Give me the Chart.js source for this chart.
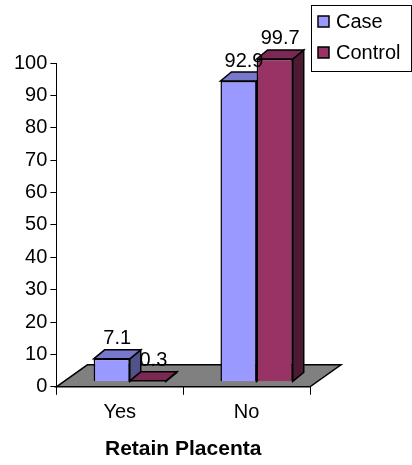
<!DOCTYPE html>
<html>
<head>
<meta charset="utf-8">
<script src="https://cdn.jsdelivr.net/npm/chart.js@4/dist/chart.umd.min.js"></script>
<style>
  html, body { margin: 0; padding: 0; background: #fff; }
  #box { width: 412px; height: 465px; }
</style>
</head>
<body>
<div id="box"><canvas id="grafico" width="412" height="465"></canvas></div>
<script>
var categorias = ['Yes', 'No'];
var valoresCase = [7.1, 92.9];
var valoresControl = [0.3, 99.7];
var nomesSeries = ['Case', 'Control'];
var tituloX = 'Retain Placenta';

var fonte = 'Liberation Sans, Arial, sans-serif';
// deslocamento da profundidade (barra e piso)
var DX = 10, DY = -5;      // barras ficam no meio do piso
var PX = 11, PY = 9;       // profundidade da barra
var FX = 31, FY = 22;      // profundidade do piso

var cores = [
    { frente: '#9999FF', topo: '#7777CC', lado: '#52528A' },
    { frente: '#993366', topo: '#7A2952', lado: '#4D1A33' }
];

function poligono(ctx, pts, cor) {
    ctx.beginPath();
    ctx.moveTo(pts[0][0], pts[0][1]);
    for (var i = 1; i < pts.length; i++) ctx.lineTo(pts[i][0], pts[i][1]);
    ctx.closePath();
    ctx.fillStyle = cor;
    ctx.fill();
    ctx.stroke();
}

var plugin3d = {
    id: 'barras3d',
    afterDatasetsUpdate: function(chart) {
        chart.data.datasets.forEach(function(ds, i) {
            chart.getDatasetMeta(i).data.forEach(function(el) {
                el.x += DX;
                el.y += DY;
                el.base += DY;
            });
        });
    },
    beforeDatasetsDraw: function(chart) {
        var ctx = chart.ctx;
        var a = chart.chartArea;
        var y0 = chart.scales.y.getPixelForValue(0);
        ctx.save();
        ctx.strokeStyle = '#000';
        ctx.lineWidth = 1.5;
        ctx.lineJoin = 'miter';
        // piso
        poligono(ctx, [[a.left, y0], [a.left + FX, y0 - FY], [a.right + FX, y0 - FY], [a.right, y0]], '#808080');
        // topo e lateral das barras
        chart.data.datasets.forEach(function(ds, i) {
            chart.getDatasetMeta(i).data.forEach(function(el) {
                var w = el.width;
                var l = el.x - w / 2, r = el.x + w / 2, t = el.y, b = el.base;
                poligono(ctx, [[r, t], [r + PX, t - PY], [r + PX, b - PY], [r, b]], cores[i].lado);
                poligono(ctx, [[l, t], [l + PX, t - PY], [r + PX, t - PY], [r, t]], cores[i].topo);
            });
        });
        ctx.restore();
    },
    afterDatasetsDraw: function(chart) {
        var ctx = chart.ctx;
        ctx.save();
        ctx.fillStyle = '#000';
        ctx.font = '20px ' + fonte;
        ctx.textAlign = 'center';
        ctx.textBaseline = 'bottom';
        chart.data.datasets.forEach(function(ds, i) {
            chart.getDatasetMeta(i).data.forEach(function(el, j) {
                ctx.fillText(String(ds.data[j]), el.x + PX / 2, el.y - PY - 1);
            });
        });
        ctx.restore();
    },
    afterDraw: function(chart) {
        // legenda com moldura
        var ctx = chart.ctx;
        var lx = 311, ly = 5, lw = 100, lh = 66;
        ctx.save();
        ctx.fillStyle = '#fff';
        ctx.fillRect(lx, ly, lw, lh);
        ctx.strokeStyle = '#000';
        ctx.lineWidth = 1;
        ctx.strokeRect(lx + 0.5, ly + 0.5, lw, lh);
        ctx.font = '20px ' + fonte;
        ctx.textBaseline = 'middle';
        ctx.textAlign = 'left';
        chart.data.datasets.forEach(function(ds, i) {
            var cy = ly + 17 + i * 31;
            ctx.fillStyle = ds.backgroundColor;
            ctx.fillRect(lx + 7, cy - 6, 11, 11);
            ctx.lineWidth = 1.5;
            ctx.strokeRect(lx + 7, cy - 6, 11, 11);
            ctx.fillStyle = '#000';
            ctx.fillText(ds.label, lx + 25, cy);
        });
        ctx.restore();
    }
};

new Chart(document.getElementById('grafico'), {
    type: 'bar',
    data: {
        labels: categorias,
        datasets: [
            {
                label: nomesSeries[0],
                data: valoresCase,
                backgroundColor: cores[0].frente,
                borderColor: '#000',
                borderWidth: 1.5,
                clip: false
            },
            {
                label: nomesSeries[1],
                data: valoresControl,
                backgroundColor: cores[1].frente,
                borderColor: '#000',
                borderWidth: 1.5,
                clip: false
            }
        ]
    },
    options: {
        responsive: false,
        animation: false,
        devicePixelRatio: 1,
        layout: { padding: { top: 63, right: 102, left: 11, bottom: 3 } },
        datasets: { bar: { categoryPercentage: 0.57, barPercentage: 1 } },
        plugins: {
            legend: { display: false },
            tooltip: { enabled: false }
        },
        scales: {
            y: {
                min: 0,
                max: 100,
                ticks: { stepSize: 10, color: '#000', padding: 3, font: { family: fonte, size: 20 } },
                grid: { drawOnChartArea: false, drawTicks: true, tickLength: 6, color: '#000' },
                border: { display: true, color: '#000', width: 1 }
            },
            x: {
                ticks: { color: '#000', padding: 6, font: { family: fonte, size: 20 } },
                grid: { offset: true, drawOnChartArea: false, drawTicks: true, tickLength: 8, color: '#000' },
                border: { display: false },
                title: {
                    display: true,
                    text: tituloX,
                    color: '#000',
                    padding: { top: 6, bottom: 0 },
                    font: { family: fonte, size: 21, weight: 'bold' }
                }
            }
        }
    },
    plugins: [plugin3d]
});
</script>
</body>
</html>
